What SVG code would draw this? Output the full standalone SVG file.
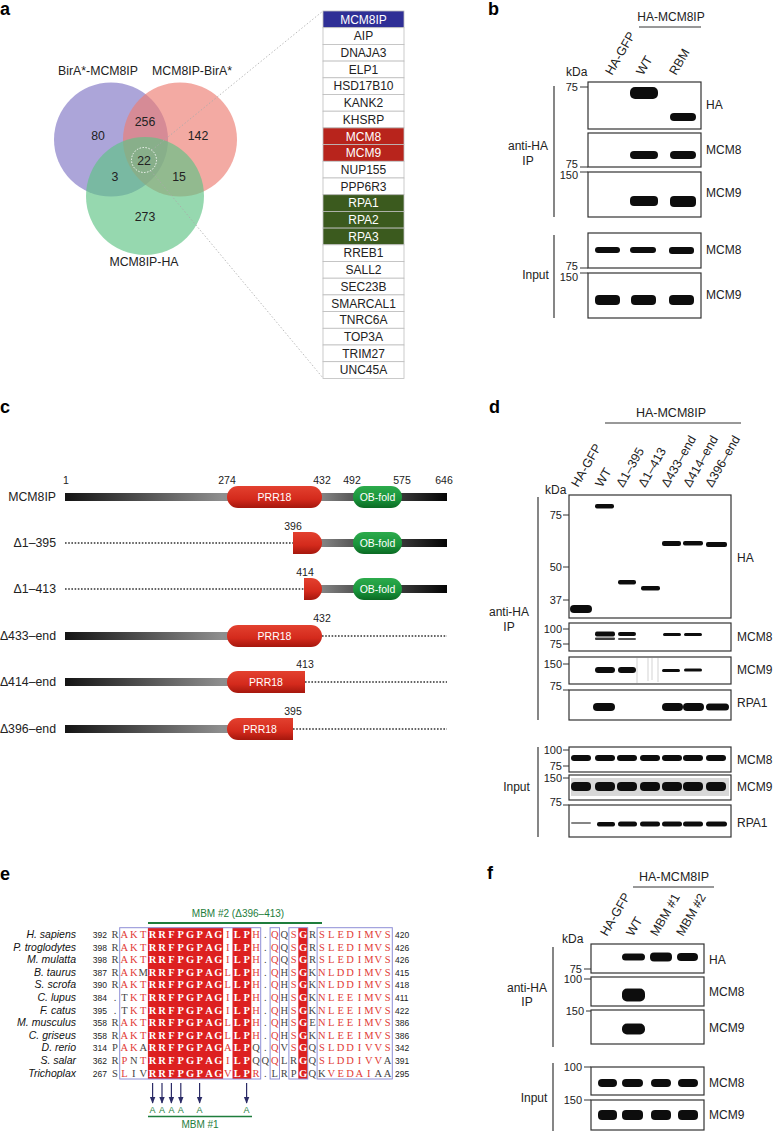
<svg xmlns="http://www.w3.org/2000/svg" width="774" height="1132" viewBox="0 0 774 1132">
<defs>
<style>
text{font-family:"Liberation Sans",Arial,sans-serif;fill:#222}
.pl{font-size:18px;font-weight:bold;fill:#000}
.t{font-size:12px}
.v{font-size:12.3px;text-anchor:middle}
.c{text-anchor:middle}
.e{text-anchor:end}
.n{font-size:10.5px;text-anchor:middle}
.mk{font-size:11px;text-anchor:end}
.hd{font-size:12.5px}
.tb{font-size:12px;text-anchor:middle}
.tw{fill:#fff}
.row{stroke:#bdbdbd;stroke-width:0.8}
.blot{fill:#fff;stroke:#333;stroke-width:1.2}
.band{fill:#111;filter:url(#bl)}
.tick{stroke:#333;stroke-width:1;fill:none}
.vl{stroke:#222;stroke-width:1.1;fill:none}
.dot{stroke:#333;stroke-width:1.4;stroke-dasharray:1.6 1.6;fill:none}
.pt{font-size:10.5px;fill:#fff;text-anchor:middle}
.al{font-family:"Liberation Serif","Times New Roman",serif;font-size:10.5px;text-anchor:middle}
.k{fill:#444}
.r{fill:#e23a36}
.w{fill:#fff;font-weight:bold}
.sp{font-size:10.5px;font-style:italic;text-anchor:end;fill:#111}
.nm{font-size:8.5px;fill:#222}
.box{fill:none;stroke:#8e8ed6;stroke-width:1}
.g{fill:#1e7d3c}
</style>
<filter id="bl" x="-30%" y="-80%" width="160%" height="260%"><feGaussianBlur stdDeviation="0.7"/></filter>
<linearGradient id="bar" gradientUnits="userSpaceOnUse" x1="65" y1="0" x2="447" y2="0">
<stop offset="0" stop-color="#141414"/><stop offset="0.41" stop-color="#8e8e8e"/><stop offset="0.67" stop-color="#858585"/><stop offset="0.75" stop-color="#5a5a5a"/><stop offset="0.88" stop-color="#383838"/><stop offset="1" stop-color="#050505"/>
</linearGradient>
<linearGradient id="red" x1="0" y1="0" x2="0" y2="1"><stop offset="0" stop-color="#e3412f"/><stop offset="0.6" stop-color="#d42a1c"/><stop offset="1" stop-color="#a5170d"/></linearGradient>
<linearGradient id="grn" x1="0" y1="0" x2="0" y2="1"><stop offset="0" stop-color="#2cab4c"/><stop offset="0.6" stop-color="#18933a"/><stop offset="1" stop-color="#0b6a24"/></linearGradient>
<marker id="arr" viewBox="0 0 10 10" refX="9" refY="5" markerWidth="6" markerHeight="6" orient="auto"><path d="M0,1 L10,5 L0,9 Z" fill="#2b2b66"/></marker>
</defs>

<g id="labels">
<text class="pl" x="0" y="15">a</text>
<text class="pl" x="488" y="15">b</text>
<text class="pl" x="0" y="413">c</text>
<text class="pl" x="489" y="413">d</text>
<text class="pl" x="0" y="880">e</text>
<text class="pl" x="487" y="879">f</text>
</g>

<g id="venn">
<circle cx="111" cy="139.5" r="57" fill="#7f74c4" fill-opacity="0.65"/>
<circle cx="180" cy="139.5" r="57" fill="#ec7d72" fill-opacity="0.65"/>
<circle cx="145" cy="196" r="59" fill="#5ec384" fill-opacity="0.65"/>
<circle cx="144" cy="160" r="12.5" fill="none" stroke="#fff" stroke-width="0.9" stroke-dasharray="1.5 1.5"/>
<text class="v" x="98" y="75">BirA*-MCM8IP</text>
<text class="v" x="192" y="75">MCM8IP-BirA*</text>
<text class="v" x="144" y="266">MCM8IP-HA</text>
<text class="v" x="98" y="140">80</text>
<text class="v" x="145" y="126">256</text>
<text class="v" x="198" y="140">142</text>
<text class="v" x="144" y="165">22</text>
<text class="v" x="115" y="181">3</text>
<text class="v" x="179" y="181">15</text>
<text class="v" x="145" y="221">273</text>
</g>
<g id="zoomlines" stroke="#aaa" stroke-width="0.8" stroke-dasharray="1.5 2" fill="none">
<line x1="152" y1="150" x2="323" y2="11"/>
<line x1="151" y1="171" x2="323" y2="378"/>
</g>
<g id="list">
<rect class="row" x="323" y="11" width="81" height="16.7" fill="#2f2f96"/>
<rect class="row" x="323" y="27.7" width="81" height="16.7" fill="#fff"/>
<rect class="row" x="323" y="44.4" width="81" height="16.7" fill="#fff"/>
<rect class="row" x="323" y="61.1" width="81" height="16.7" fill="#fff"/>
<rect class="row" x="323" y="77.8" width="81" height="16.7" fill="#fff"/>
<rect class="row" x="323" y="94.5" width="81" height="16.7" fill="#fff"/>
<rect class="row" x="323" y="111.2" width="81" height="16.7" fill="#fff"/>
<rect class="row" x="323" y="127.9" width="81" height="16.7" fill="#b8241c"/>
<rect class="row" x="323" y="144.6" width="81" height="16.7" fill="#b8241c"/>
<rect class="row" x="323" y="161.3" width="81" height="16.7" fill="#fff"/>
<rect class="row" x="323" y="178" width="81" height="16.7" fill="#fff"/>
<rect class="row" x="323" y="194.7" width="81" height="16.7" fill="#3b5a1e"/>
<rect class="row" x="323" y="211.4" width="81" height="16.7" fill="#3b5a1e"/>
<rect class="row" x="323" y="228.1" width="81" height="16.7" fill="#3b5a1e"/>
<rect class="row" x="323" y="244.8" width="81" height="16.7" fill="#fff"/>
<rect class="row" x="323" y="261.5" width="81" height="16.7" fill="#fff"/>
<rect class="row" x="323" y="278.2" width="81" height="16.7" fill="#fff"/>
<rect class="row" x="323" y="294.9" width="81" height="16.7" fill="#fff"/>
<rect class="row" x="323" y="311.6" width="81" height="16.7" fill="#fff"/>
<rect class="row" x="323" y="328.3" width="81" height="16.7" fill="#fff"/>
<rect class="row" x="323" y="345" width="81" height="16.7" fill="#fff"/>
<rect class="row" x="323" y="361.7" width="81" height="16.7" fill="#fff"/>
<text class="tb tw" x="363.5" y="23.6">MCM8IP</text>
<text class="tb" x="363.5" y="40.3">AIP</text>
<text class="tb" x="363.5" y="57">DNAJA3</text>
<text class="tb" x="363.5" y="73.7">ELP1</text>
<text class="tb" x="363.5" y="90.4">HSD17B10</text>
<text class="tb" x="363.5" y="107.1">KANK2</text>
<text class="tb" x="363.5" y="123.8">KHSRP</text>
<text class="tb tw" x="363.5" y="140.5">MCM8</text>
<text class="tb tw" x="363.5" y="157.2">MCM9</text>
<text class="tb" x="363.5" y="173.9">NUP155</text>
<text class="tb" x="363.5" y="190.6">PPP6R3</text>
<text class="tb tw" x="363.5" y="207.3">RPA1</text>
<text class="tb tw" x="363.5" y="224">RPA2</text>
<text class="tb tw" x="363.5" y="240.7">RPA3</text>
<text class="tb" x="363.5" y="257.4">RREB1</text>
<text class="tb" x="363.5" y="274.1">SALL2</text>
<text class="tb" x="363.5" y="290.8">SEC23B</text>
<text class="tb" x="363.5" y="307.5">SMARCAL1</text>
<text class="tb" x="363.5" y="324.2">TNRC6A</text>
<text class="tb" x="363.5" y="340.9">TOP3A</text>
<text class="tb" x="363.5" y="357.6">TRIM27</text>
<text class="tb" x="363.5" y="374.3">UNC45A</text>
</g>

<g id="blot-b">
<text class="t c" x="671" y="21">HA-MCM8IP</text>
<line class="tick" x1="639" y1="27" x2="701" y2="27"/>
<text class="hd" transform="translate(612,76) rotate(-60)">HA-GFP</text>
<text class="hd" transform="translate(643,76) rotate(-60)">WT</text>
<text class="hd" transform="translate(676,76) rotate(-60)">RBM</text>
<text class="t" x="566" y="76">kDa</text>
<rect class="blot" x="588" y="82" width="113" height="47"/>
<rect class="blot" x="588" y="133" width="113" height="34"/>
<rect class="blot" x="588" y="172" width="113" height="45"/>
<rect class="blot" x="588" y="233" width="113" height="35"/>
<rect class="blot" x="588" y="273" width="113" height="45"/>
<rect class="band" x="630" y="87" width="28" height="12" rx="5"/>
<rect class="band" x="670" y="113" width="26" height="8" rx="4"/>
<rect class="band" x="630" y="151" width="28" height="8" rx="4"/>
<rect class="band" x="670" y="151" width="26" height="8" rx="4"/>
<rect class="band" x="630" y="196" width="28" height="10" rx="4"/>
<rect class="band" x="670" y="196" width="26" height="11" rx="4"/>
<rect class="band" x="595" y="247" width="25" height="6" rx="3"/>
<rect class="band" x="630" y="247" width="26" height="6" rx="3"/>
<rect class="band" x="669" y="247" width="25" height="7" rx="3"/>
<rect class="band" x="595" y="295" width="25" height="10" rx="4"/>
<rect class="band" x="631" y="295" width="25" height="10" rx="4"/>
<rect class="band" x="669" y="295" width="25" height="10" rx="4"/>
<text class="t" x="706" y="109">HA</text>
<text class="t" x="706" y="154">MCM8</text>
<text class="t" x="706" y="197">MCM9</text>
<text class="t" x="706" y="254">MCM8</text>
<text class="t" x="706" y="299">MCM9</text>
<text class="mk" x="578" y="91">75</text>
<line class="tick" x1="580" y1="87" x2="588" y2="87"/>
<text class="mk" x="578" y="168">75</text>
<line class="tick" x1="580" y1="167" x2="588" y2="167"/>
<text class="mk" x="578" y="179">150</text>
<line class="tick" x1="580" y1="172" x2="588" y2="172"/>
<text class="mk" x="578" y="270">75</text>
<line class="tick" x1="580" y1="268" x2="588" y2="268"/>
<text class="mk" x="578" y="281">150</text>
<line class="tick" x1="580" y1="273" x2="588" y2="273"/>
<text class="t c" x="528" y="150">anti-HA</text>
<text class="t c" x="528" y="165">IP</text>
<text class="t c" x="535.5" y="279">Input</text>
<line class="vl" x1="554" y1="86" x2="554" y2="217"/>
<line class="vl" x1="554" y1="235" x2="554" y2="318"/>
</g>

<g id="constructs">
<g id="c-wt">
<text class="t e" x="56" y="501" style="font-size:12.3px">MCM8IP</text>
<rect x="65" y="493" width="382" height="8" fill="url(#bar)"/>
<rect x="227" y="486" width="95" height="22" rx="11" fill="url(#red)"/>
<rect x="353" y="486" width="49" height="22" rx="11" fill="url(#grn)"/>
<text class="pt" x="274.5" y="501">PRR18</text>
<text class="pt" x="377.5" y="501">OB-fold</text>
<text class="n" x="66" y="484">1</text>
<text class="n" x="227" y="484">274</text>
<text class="n" x="322" y="484">432</text>
<text class="n" x="352" y="484">492</text>
<text class="n" x="402" y="484">575</text>
<text class="n" x="444" y="484">646</text>
</g>
<g id="c-d1-395">
<text class="t e" x="56" y="547" style="font-size:12.3px">Δ1–395</text>
<line class="dot" x1="65" y1="543" x2="293" y2="543"/>
<rect x="311" y="539" width="136" height="8" fill="url(#bar)"/>
<path d="M293,532 H311 A11,11 0 0 1 311,554 H293 Z" fill="url(#red)"/>
<rect x="353" y="532" width="49" height="22" rx="11" fill="url(#grn)"/>
<text class="pt" x="377.5" y="547">OB-fold</text>
<text class="n" x="293" y="530">396</text>
</g>
<g id="c-d1-413">
<text class="t e" x="56" y="593" style="font-size:12.3px">Δ1–413</text>
<line class="dot" x1="65" y1="589" x2="304" y2="589"/>
<rect x="311" y="585" width="136" height="8" fill="url(#bar)"/>
<path d="M304,578 H311 A11,11 0 0 1 311,600 H304 Z" fill="url(#red)"/>
<rect x="353" y="578" width="49" height="22" rx="11" fill="url(#grn)"/>
<text class="pt" x="377.5" y="593">OB-fold</text>
<text class="n" x="305" y="576">414</text>
</g>
<g id="c-d433">
<text class="t e" x="56" y="640" style="font-size:12.3px">Δ433–end</text>
<rect x="65" y="632" width="195" height="8" fill="url(#bar)"/>
<rect x="227" y="625" width="95" height="22" rx="11" fill="url(#red)"/>
<line class="dot" x1="322" y1="636" x2="447" y2="636"/>
<text class="pt" x="274.5" y="640">PRR18</text>
<text class="n" x="322" y="622">432</text>
</g>
<g id="c-d414">
<text class="t e" x="56" y="686" style="font-size:12.3px">Δ414–end</text>
<rect x="65" y="678" width="195" height="8" fill="url(#bar)"/>
<path d="M238,671 A11,11 0 0 0 238,693 H305 V671 Z" fill="url(#red)"/>
<line class="dot" x1="305" y1="682" x2="447" y2="682"/>
<text class="pt" x="266" y="686">PRR18</text>
<text class="n" x="305" y="668">413</text>
</g>
<g id="c-d396">
<text class="t e" x="56" y="733" style="font-size:12.3px">Δ396–end</text>
<rect x="65" y="725" width="195" height="8" fill="url(#bar)"/>
<path d="M238,718 A11,11 0 0 0 238,740 H293 V718 Z" fill="url(#red)"/>
<line class="dot" x1="293" y1="729" x2="447" y2="729"/>
<text class="pt" x="260" y="733">PRR18</text>
<text class="n" x="293" y="715">395</text>
</g>
</g>

<g id="blot-d">
<text class="t c" x="671" y="417" style="font-size:12.5px">HA-MCM8IP</text>
<line class="tick" x1="605" y1="423" x2="741" y2="423"/>
<text class="hd" transform="translate(578,488) rotate(-60)">HA-GFP</text>
<text class="hd" transform="translate(602,488) rotate(-60)">WT</text>
<text class="hd" transform="translate(623,488) rotate(-60)">Δ1–395</text>
<text class="hd" transform="translate(645,488) rotate(-60)">Δ1–413</text>
<text class="hd" transform="translate(668,488) rotate(-60)">Δ433–end</text>
<text class="hd" transform="translate(690,488) rotate(-60)">Δ414–end</text>
<text class="hd" transform="translate(712,488) rotate(-60)">Δ396–end</text>
<text class="t" x="545" y="494">kDa</text>
<rect class="blot" x="569" y="495" width="162" height="123"/>
<rect class="blot" x="569" y="623" width="162" height="28"/>
<rect class="blot" x="569" y="657" width="162" height="27"/>
<rect class="blot" x="569" y="690" width="162" height="30"/>
<rect class="blot" x="569" y="747" width="162" height="25"/>
<rect class="blot" x="569" y="775" width="162" height="25"/>
<rect class="blot" x="569" y="805" width="162" height="32"/>
<rect class="band" x="595" y="504" width="19" height="4.5" rx="2"/>
<rect class="band" x="662" y="541" width="19" height="5" rx="2"/>
<rect class="band" x="683" y="541" width="20" height="4.5" rx="2"/>
<rect class="band" x="706" y="542" width="21" height="5" rx="2"/>
<rect class="band" x="618" y="580" width="18" height="4.5" rx="2"/>
<rect class="band" x="641" y="586" width="19" height="4.5" rx="2"/>
<rect class="band" x="570" y="605" width="22" height="8" rx="4"/>
<rect class="band" x="595" y="631.5" width="20" height="5" rx="2"/>
<rect class="band" x="595" y="637.5" width="20" height="2.5" rx="1" opacity="0.8"/>
<rect class="band" x="618" y="632" width="18" height="4" rx="2"/>
<rect class="band" x="618" y="638" width="18" height="2" rx="1" opacity="0.7"/>
<rect class="band" x="663" y="633" width="18" height="3" rx="1.5"/>
<rect class="band" x="684" y="633" width="18" height="3" rx="1.5"/>
<g stroke="#c8c8c8" stroke-width="0.8"><line x1="637" y1="658" x2="637" y2="683"/><line x1="648" y1="658" x2="648" y2="681"/><line x1="652" y1="658" x2="652" y2="680"/><line x1="658" y1="658" x2="658" y2="682"/></g>
<rect class="band" x="595" y="667" width="20" height="6" rx="3"/>
<rect class="band" x="618" y="667" width="18" height="6" rx="3"/>
<rect class="band" x="662" y="669" width="18" height="3" rx="1.5"/>
<rect class="band" x="684" y="668.5" width="18" height="3" rx="1.5"/>
<rect class="band" x="593" y="703" width="22" height="8" rx="4"/>
<rect class="band" x="662" y="703" width="21" height="8" rx="4"/>
<rect class="band" x="683" y="703" width="21" height="8" rx="4"/>
<rect class="band" x="706" y="703.5" width="23" height="7" rx="3.5"/>
<rect class="band" x="571" y="755" width="20" height="6" rx="3"/>
<rect class="band" x="595" y="755" width="20" height="6" rx="3"/>
<rect class="band" x="617" y="755" width="20" height="6" rx="3"/>
<rect class="band" x="640" y="755" width="20" height="6" rx="3"/>
<rect class="band" x="662" y="755" width="20" height="6" rx="3"/>
<rect class="band" x="683" y="755" width="20" height="6" rx="3"/>
<rect class="band" x="706" y="755" width="20" height="6" rx="3"/>
<rect x="571" y="778" width="158" height="18" fill="#aaa" opacity="0.45" filter="url(#bl)"/>
<rect class="band" x="571" y="782" width="20" height="9" rx="4"/>
<rect class="band" x="595" y="782" width="20" height="9" rx="4"/>
<rect class="band" x="617" y="782" width="20" height="9" rx="4"/>
<rect class="band" x="640" y="782" width="20" height="9" rx="4"/>
<rect class="band" x="662" y="782" width="20" height="9" rx="4"/>
<rect class="band" x="683" y="782" width="20" height="9" rx="4"/>
<rect class="band" x="706" y="782" width="20" height="9" rx="4"/>
<rect class="band" x="571" y="822" width="20" height="2" rx="1" opacity="0.5"/>
<rect class="band" x="597" y="822" width="18" height="4.5" rx="2"/>
<rect class="band" x="618" y="821.5" width="19" height="5" rx="2.5"/>
<rect class="band" x="640" y="821.5" width="20" height="5" rx="2.5"/>
<rect class="band" x="662" y="821.5" width="20" height="5" rx="2.5"/>
<rect class="band" x="683" y="821.5" width="20" height="5" rx="2.5"/>
<rect class="band" x="706" y="821.5" width="21" height="5" rx="2.5"/>
<text class="t" x="737" y="562">HA</text>
<text class="t" x="737" y="641">MCM8</text>
<text class="t" x="737" y="674">MCM9</text>
<text class="t" x="737" y="707">RPA1</text>
<text class="t" x="737" y="764">MCM8</text>
<text class="t" x="737" y="791">MCM9</text>
<text class="t" x="737" y="827">RPA1</text>
<text class="mk" x="562" y="519">75</text><line class="tick" x1="563" y1="515" x2="569" y2="515"/>
<text class="mk" x="562" y="571">50</text><line class="tick" x1="563" y1="567" x2="569" y2="567"/>
<text class="mk" x="562" y="604">37</text><line class="tick" x1="563" y1="600" x2="569" y2="600"/>
<text class="mk" x="562" y="633">100</text><line class="tick" x1="563" y1="629" x2="569" y2="629"/>
<text class="mk" x="562" y="648">75</text><line class="tick" x1="563" y1="644" x2="569" y2="644"/>
<text class="mk" x="562" y="668">150</text><line class="tick" x1="563" y1="664" x2="569" y2="664"/>
<text class="mk" x="562" y="690">75</text><line class="tick" x1="563" y1="690" x2="569" y2="690"/>
<text class="mk" x="562" y="754">100</text><line class="tick" x1="563" y1="750" x2="569" y2="750"/>
<text class="mk" x="562" y="770">75</text><line class="tick" x1="563" y1="766" x2="569" y2="766"/>
<text class="mk" x="562" y="782">150</text><line class="tick" x1="563" y1="778" x2="569" y2="778"/>
<text class="mk" x="562" y="806">75</text><line class="tick" x1="563" y1="805" x2="569" y2="805"/>
<text class="t c" x="509" y="616">anti-HA</text>
<text class="t c" x="509" y="631">IP</text>
<text class="t c" x="516.5" y="791">Input</text>
<line class="vl" x1="538" y1="497" x2="538" y2="720"/>
<line class="vl" x1="538" y1="747" x2="538" y2="837"/>
</g>

<g id="alignment">
<text class="g" x="238" y="917" style="font-size:10px;text-anchor:middle">MBM #2 (Δ396–413)</text>
<line x1="148" y1="923" x2="322" y2="923" stroke="#1e7d3c" stroke-width="2"/>
<rect x="147.9" y="927.7" width="75.2" height="151.3" fill="#dd2020"/>
<rect x="232.5" y="927.7" width="18.8" height="151.3" fill="#dd2020"/>
<rect x="298.3" y="927.7" width="9.4" height="151.3" fill="#dd2020"/>
<rect class="box" x="119.7" y="927.7" width="141" height="151.3"/>
<rect class="box" x="270.1" y="927.7" width="9.4" height="151.3"/>
<rect class="box" x="288.9" y="927.7" width="18.8" height="151.3"/>
<rect class="box" x="317.1" y="927.7" width="75.2" height="151.3"/>
<g id="species">
<text class="sp" x="76" y="938">H. sapiens</text>
<text class="sp" x="76" y="950.6">P. troglodytes</text>
<text class="sp" x="76" y="963.2">M. mulatta</text>
<text class="sp" x="76" y="975.8">B. taurus</text>
<text class="sp" x="76" y="988.4">S. scrofa</text>
<text class="sp" x="76" y="1001">C. lupus</text>
<text class="sp" x="76" y="1013.6">F. catus</text>
<text class="sp" x="76" y="1026.2">M. musculus</text>
<text class="sp" x="76" y="1038.8">C. griseus</text>
<text class="sp" x="76" y="1051.4">D. rerio</text>
<text class="sp" x="76" y="1064">S. salar</text>
<text class="sp" x="76" y="1076.6">Trichoplax</text>
</g>
<g id="startnum">
<text class="nm e" x="107" y="938">392</text>
<text class="nm e" x="107" y="950.6">398</text>
<text class="nm e" x="107" y="963.2">398</text>
<text class="nm e" x="107" y="975.8">387</text>
<text class="nm e" x="107" y="988.4">390</text>
<text class="nm e" x="107" y="1001">384</text>
<text class="nm e" x="107" y="1013.6">395</text>
<text class="nm e" x="107" y="1026.2">358</text>
<text class="nm e" x="107" y="1038.8">358</text>
<text class="nm e" x="107" y="1051.4">314</text>
<text class="nm e" x="107" y="1064">362</text>
<text class="nm e" x="107" y="1076.6">267</text>
</g>
<g id="endnum">
<text class="nm" x="395" y="938">420</text>
<text class="nm" x="395" y="950.6">426</text>
<text class="nm" x="395" y="963.2">426</text>
<text class="nm" x="395" y="975.8">415</text>
<text class="nm" x="395" y="988.4">418</text>
<text class="nm" x="395" y="1001">411</text>
<text class="nm" x="395" y="1013.6">422</text>
<text class="nm" x="395" y="1026.2">386</text>
<text class="nm" x="395" y="1038.8">386</text>
<text class="nm" x="395" y="1051.4">342</text>
<text class="nm" x="395" y="1064">391</text>
<text class="nm" x="395" y="1076.6">295</text>
</g>
<g id="seqs">
<text class="al" y="938"><tspan class="k" x="115">R</tspan><tspan class="r" x="124.4 133.8 143.2">AKT</tspan><tspan class="w" x="152.6 162 171.4 180.8 190.2 199.6 209 218.4">RRFPGPAG</tspan><tspan class="r" x="227.8">I</tspan><tspan class="w" x="237.2 246.6">LP</tspan><tspan class="r" x="256">H</tspan><tspan class="k" x="265.4">.</tspan><tspan class="r" x="274.8">Q</tspan><tspan class="k" x="284.2">Q</tspan><tspan class="r" x="293.6">S</tspan><tspan class="w" x="303">G</tspan><tspan class="k" x="312.4">R</tspan><tspan class="r" x="321.8 331.2 340.6 350 359.4 368.8 378.2 387.6">SLEDIMVS</tspan></text>
<text class="al" y="950.6"><tspan class="k" x="115">R</tspan><tspan class="r" x="124.4 133.8 143.2">AKT</tspan><tspan class="w" x="152.6 162 171.4 180.8 190.2 199.6 209 218.4">RRFPGPAG</tspan><tspan class="r" x="227.8">I</tspan><tspan class="w" x="237.2 246.6">LP</tspan><tspan class="r" x="256">H</tspan><tspan class="k" x="265.4">.</tspan><tspan class="r" x="274.8">Q</tspan><tspan class="k" x="284.2">Q</tspan><tspan class="r" x="293.6">S</tspan><tspan class="w" x="303">G</tspan><tspan class="k" x="312.4">R</tspan><tspan class="r" x="321.8 331.2 340.6 350 359.4 368.8 378.2 387.6">SLEDIMVS</tspan></text>
<text class="al" y="963.2"><tspan class="k" x="115">R</tspan><tspan class="r" x="124.4 133.8 143.2">AKT</tspan><tspan class="w" x="152.6 162 171.4 180.8 190.2 199.6 209 218.4">RRFPGPAG</tspan><tspan class="r" x="227.8">I</tspan><tspan class="w" x="237.2 246.6">LP</tspan><tspan class="r" x="256">H</tspan><tspan class="k" x="265.4">.</tspan><tspan class="r" x="274.8">Q</tspan><tspan class="k" x="284.2">Q</tspan><tspan class="r" x="293.6">S</tspan><tspan class="w" x="303">G</tspan><tspan class="k" x="312.4">R</tspan><tspan class="r" x="321.8 331.2 340.6 350 359.4 368.8 378.2 387.6">SLEDIMVS</tspan></text>
<text class="al" y="975.8"><tspan class="k" x="115">R</tspan><tspan class="r" x="124.4 133.8">AK</tspan><tspan class="k" x="143.2">M</tspan><tspan class="w" x="152.6 162 171.4 180.8 190.2 199.6 209 218.4">RRFPGPAG</tspan><tspan class="r" x="227.8">L</tspan><tspan class="w" x="237.2 246.6">LP</tspan><tspan class="r" x="256">H</tspan><tspan class="k" x="265.4">.</tspan><tspan class="r" x="274.8">Q</tspan><tspan class="k" x="284.2">H</tspan><tspan class="r" x="293.6">S</tspan><tspan class="w" x="303">G</tspan><tspan class="k" x="312.4">K</tspan><tspan class="r" x="321.8 331.2 340.6 350 359.4 368.8 378.2 387.6">NLDDIMVS</tspan></text>
<text class="al" y="988.4"><tspan class="k" x="115">R</tspan><tspan class="r" x="124.4 133.8 143.2">AKT</tspan><tspan class="w" x="152.6 162 171.4 180.8 190.2 199.6 209 218.4">RRFPGPAG</tspan><tspan class="r" x="227.8">L</tspan><tspan class="w" x="237.2 246.6">LP</tspan><tspan class="r" x="256">H</tspan><tspan class="k" x="265.4">.</tspan><tspan class="r" x="274.8">Q</tspan><tspan class="k" x="284.2">H</tspan><tspan class="r" x="293.6">S</tspan><tspan class="w" x="303">G</tspan><tspan class="k" x="312.4">K</tspan><tspan class="r" x="321.8 331.2 340.6 350 359.4 368.8 378.2 387.6">NLDDIMVS</tspan></text>
<text class="al" y="1001"><tspan class="k" x="115 124.4">.T</tspan><tspan class="r" x="133.8 143.2">KT</tspan><tspan class="w" x="152.6 162 171.4 180.8 190.2 199.6 209 218.4">RRFPGPAG</tspan><tspan class="r" x="227.8">I</tspan><tspan class="w" x="237.2 246.6">LP</tspan><tspan class="r" x="256">H</tspan><tspan class="k" x="265.4">.</tspan><tspan class="r" x="274.8">Q</tspan><tspan class="k" x="284.2">H</tspan><tspan class="r" x="293.6">S</tspan><tspan class="w" x="303">G</tspan><tspan class="k" x="312.4">K</tspan><tspan class="r" x="321.8 331.2 340.6 350 359.4 368.8 378.2 387.6">NLEEIMVS</tspan></text>
<text class="al" y="1013.6"><tspan class="k" x="115 124.4">.T</tspan><tspan class="r" x="133.8 143.2">KT</tspan><tspan class="w" x="152.6 162 171.4 180.8 190.2 199.6 209 218.4">RRFPGPAG</tspan><tspan class="r" x="227.8">I</tspan><tspan class="w" x="237.2 246.6">LP</tspan><tspan class="r" x="256">H</tspan><tspan class="k" x="265.4">.</tspan><tspan class="r" x="274.8">Q</tspan><tspan class="k" x="284.2">H</tspan><tspan class="r" x="293.6">S</tspan><tspan class="w" x="303">G</tspan><tspan class="k" x="312.4">K</tspan><tspan class="r" x="321.8 331.2 340.6 350 359.4 368.8 378.2 387.6">NLEEIMVS</tspan></text>
<text class="al" y="1026.2"><tspan class="k" x="115">R</tspan><tspan class="r" x="124.4 133.8 143.2">AKT</tspan><tspan class="w" x="152.6 162 171.4 180.8 190.2 199.6 209 218.4">RRFPGPAG</tspan><tspan class="r" x="227.8">L</tspan><tspan class="w" x="237.2 246.6">LP</tspan><tspan class="r" x="256">H</tspan><tspan class="k" x="265.4">.</tspan><tspan class="r" x="274.8">Q</tspan><tspan class="k" x="284.2">H</tspan><tspan class="r" x="293.6">S</tspan><tspan class="w" x="303">G</tspan><tspan class="k" x="312.4">E</tspan><tspan class="r" x="321.8 331.2 340.6 350 359.4 368.8 378.2 387.6">NLEEIMVS</tspan></text>
<text class="al" y="1038.8"><tspan class="k" x="115">R</tspan><tspan class="r" x="124.4 133.8 143.2">AKT</tspan><tspan class="w" x="152.6 162 171.4 180.8 190.2 199.6 209 218.4">RRFPGPAG</tspan><tspan class="r" x="227.8">L</tspan><tspan class="w" x="237.2 246.6">LP</tspan><tspan class="r" x="256">H</tspan><tspan class="k" x="265.4">.</tspan><tspan class="r" x="274.8">Q</tspan><tspan class="k" x="284.2">H</tspan><tspan class="r" x="293.6">S</tspan><tspan class="w" x="303">G</tspan><tspan class="k" x="312.4">K</tspan><tspan class="r" x="321.8 331.2 340.6 350 359.4 368.8 378.2 387.6">NLEEIMVS</tspan></text>
<text class="al" y="1051.4"><tspan class="k" x="115">P</tspan><tspan class="r" x="124.4 133.8">AK</tspan><tspan class="k" x="143.2">A</tspan><tspan class="w" x="152.6 162 171.4 180.8 190.2 199.6 209 218.4">RRFPGPAG</tspan><tspan class="r" x="227.8">A</tspan><tspan class="w" x="237.2 246.6">LP</tspan><tspan class="k" x="256 265.4">Q.</tspan><tspan class="r" x="274.8">Q</tspan><tspan class="k" x="284.2">V</tspan><tspan class="r" x="293.6">S</tspan><tspan class="w" x="303">G</tspan><tspan class="k" x="312.4">Q</tspan><tspan class="r" x="321.8 331.2 340.6 350 359.4 368.8 378.2 387.6">SLDDIVVS</tspan></text>
<text class="al" y="1064"><tspan class="k" x="115">R</tspan><tspan class="r" x="124.4">P</tspan><tspan class="k" x="133.8">N</tspan><tspan class="r" x="143.2">T</tspan><tspan class="w" x="152.6 162 171.4 180.8 190.2 199.6 209 218.4">RRFPGPAG</tspan><tspan class="r" x="227.8">I</tspan><tspan class="w" x="237.2 246.6">LP</tspan><tspan class="k" x="256 265.4">QQ</tspan><tspan class="r" x="274.8">Q</tspan><tspan class="k" x="284.2 293.6">LR</tspan><tspan class="w" x="303">G</tspan><tspan class="k" x="312.4">Q</tspan><tspan class="r" x="321.8 331.2 340.6 350 359.4 368.8 378.2">SLDDIVV</tspan><tspan class="k" x="387.6">A</tspan></text>
<text class="al" y="1076.6"><tspan class="k" x="115">S</tspan><tspan class="r" x="124.4">L</tspan><tspan class="k" x="133.8 143.2">IV</tspan><tspan class="w" x="152.6 162 171.4 180.8 190.2 199.6 209 218.4">RRFPGPAG</tspan><tspan class="r" x="227.8">V</tspan><tspan class="w" x="237.2 246.6">LP</tspan><tspan class="r" x="256">R</tspan><tspan class="k" x="265.4 274.8 284.2 293.6">.LRP</tspan><tspan class="w" x="303">G</tspan><tspan class="k" x="312.4 321.8">QK</tspan><tspan class="r" x="331.2 340.6 350 359.4 368.8">VEDAI</tspan><tspan class="k" x="378.2 387.6">AA</tspan></text>
</g>
<g id="mbm1-arrows" stroke="#2b2b66" stroke-width="1.2" marker-end="url(#arr)">
<line x1="152.6" y1="1083" x2="152.6" y2="1103"/>
<line x1="162" y1="1083" x2="162" y2="1103"/>
<line x1="171.4" y1="1083" x2="171.4" y2="1103"/>
<line x1="180.8" y1="1083" x2="180.8" y2="1103"/>
<line x1="199.6" y1="1083" x2="199.6" y2="1103"/>
<line x1="246.6" y1="1083" x2="246.6" y2="1103"/>
</g>
<g id="mbm1">
<text class="g c" x="152.6" y="1113" style="font-size:9px">A</text>
<text class="g c" x="162" y="1113" style="font-size:9px">A</text>
<text class="g c" x="171.4" y="1113" style="font-size:9px">A</text>
<text class="g c" x="180.8" y="1113" style="font-size:9px">A</text>
<text class="g c" x="199.6" y="1113" style="font-size:9px">A</text>
<text class="g c" x="246.6" y="1113" style="font-size:9px">A</text>
<line x1="148" y1="1116.5" x2="252" y2="1116.5" stroke="#1e7d3c" stroke-width="1.6"/>
<text class="g c" x="200" y="1128" style="font-size:10px">MBM #1</text>
</g>
</g>

<g id="blot-f">
<text class="t c" x="674" y="881" style="font-size:12.5px">HA-MCM8IP</text>
<line class="tick" x1="633" y1="887" x2="714" y2="887"/>
<text class="hd" transform="translate(607,937) rotate(-60)">HA-GFP</text>
<text class="hd" transform="translate(633,937) rotate(-60)">WT</text>
<text class="hd" transform="translate(657,937) rotate(-60)">MBM #1</text>
<text class="hd" transform="translate(683,937) rotate(-60)">MBM #2</text>
<text class="t" x="562" y="943">kDa</text>
<rect class="blot" x="591" y="944" width="113" height="29"/>
<rect class="blot" x="591" y="977" width="113" height="29"/>
<rect class="blot" x="591" y="1010" width="113" height="34"/>
<rect class="blot" x="591" y="1067" width="113" height="28"/>
<rect class="blot" x="591" y="1100" width="113" height="30"/>
<rect class="band" x="622" y="953.5" width="23" height="7" rx="3.5"/>
<rect class="band" x="650" y="952.5" width="22" height="9" rx="4"/>
<rect class="band" x="677" y="953" width="21" height="8" rx="4"/>
<rect class="band" x="622" y="988.5" width="23" height="13" rx="5"/>
<rect class="band" x="622" y="1023.5" width="23" height="11" rx="5"/>
<rect class="band" x="598" y="1079" width="19" height="8" rx="4"/>
<rect class="band" x="622" y="1079" width="21" height="8" rx="4"/>
<rect class="band" x="651" y="1079" width="20" height="8" rx="4"/>
<rect class="band" x="678" y="1079" width="20" height="8" rx="4"/>
<rect class="band" x="598" y="1110" width="19" height="10" rx="4"/>
<rect class="band" x="622" y="1110" width="21" height="10" rx="4"/>
<rect class="band" x="651" y="1110" width="20" height="10" rx="4"/>
<rect class="band" x="678" y="1110" width="20" height="10" rx="4"/>
<text class="t" x="709" y="964">HA</text>
<text class="t" x="709" y="996">MCM8</text>
<text class="t" x="709" y="1032">MCM9</text>
<text class="t" x="709" y="1087">MCM8</text>
<text class="t" x="709" y="1119">MCM9</text>
<text class="mk" x="582" y="973">75</text><line class="tick" x1="584" y1="969" x2="591" y2="969"/>
<text class="mk" x="582" y="983">100</text><line class="tick" x1="584" y1="979" x2="591" y2="979"/>
<text class="mk" x="584" y="1015">150</text><line class="tick" x1="586" y1="1011" x2="591" y2="1011"/>
<text class="mk" x="582" y="1071">100</text><line class="tick" x1="584" y1="1067" x2="591" y2="1067"/>
<text class="mk" x="582" y="1104">150</text><line class="tick" x1="584" y1="1100" x2="591" y2="1100"/>
<text class="t c" x="527" y="992">anti-HA</text>
<text class="t c" x="527" y="1006">IP</text>
<text class="t c" x="534" y="1102">Input</text>
<line class="vl" x1="553" y1="947" x2="553" y2="1047"/>
<line class="vl" x1="553" y1="1063" x2="553" y2="1131"/>
</g>
</svg>
